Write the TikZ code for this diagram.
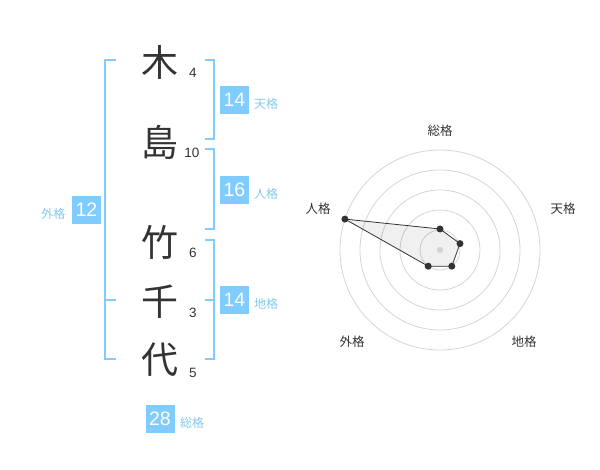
\documentclass[tikz,border=0pt]{standalone}
\usepackage{fontspec}
\usetikzlibrary{calc}
\setmainfont{Liberation Sans}
\newfontfamily\cjk{Noto Sans CJK JP}
\definecolor{boxblue}{RGB}{128,204,255}
\definecolor{lblblue}{RGB}{130,200,240}
\definecolor{txt}{RGB}{51,51,51}
\definecolor{ring}{RGB}{212,212,212}
\begin{document}
\begin{tikzpicture}[x=1pt,y=-1pt,
  kanji/.style={font=\cjk\fontsize{37}{37}\selectfont,text=txt,inner sep=0pt,anchor=center},
  strokes/.style={font=\fontsize{13.5}{14}\selectfont,text=txt,inner sep=0pt,anchor=center},
  numbox/.style={fill=boxblue,text=white,font=\fontsize{19.5}{19.5}\selectfont,minimum width=29pt,minimum height=28pt,inner sep=0pt,anchor=center},
  kakulbl/.style={font=\cjk\fontsize{12}{12}\selectfont,text=lblblue,inner sep=0pt,anchor=center},
  radarlbl/.style={font=\cjk\fontsize{12.5}{12.5}\selectfont,text=txt,inner sep=0pt,anchor=center},
  brk/.style={draw=boxblue,line width=2pt},
  dot/.style={circle,fill=txt,inner sep=0pt,minimum size=7pt}
]
\useasboundingbox (0,0) rectangle (600,470);
% kanji
\node[kanji] (k1) at (160,62) {木};
\node[kanji] (k2) at (160,142) {島};
\node[kanji] (k3) at (160,242) {竹};
\node[kanji] (k4) at (160,302) {千};
\node[kanji] (k5) at (160,360) {代};
% stroke counts
\node[strokes] (s1) at (193,73) {4};
\node[strokes] (s2) at (192,153) {10};
\node[strokes] (s3) at (193,253) {6};
\node[strokes] (s4) at (193,313) {3};
\node[strokes] (s5) at (193,373) {5};
% brackets
\draw[brk] (116,60) -- (105,60) -- (105,359) -- (116,359);
\draw[brk] (105,300) -- (116,300);
\draw[brk] (205,60) -- (214,60) -- (214,139) -- (205,139);
\draw[brk] (205,149) -- (214,149) -- (214,229) -- (205,229);
\draw[brk] (205,240) -- (214,240) -- (214,359) -- (205,359);
\draw[brk] (205,300) -- (214,300);
% boxes
\node[numbox] (ten) at (234.5,100) {14};
\node[kakulbl] (tenl) at (266,104) {天格};
\node[numbox] (jin) at (234.5,190) {16};
\node[kakulbl] (jinl) at (266,194) {人格};
\node[numbox] (chi) at (234.5,300) {14};
\node[kakulbl] (chil) at (266,304) {地格};
\node[numbox] (gai) at (86.5,210) {12};
\node[kakulbl] (gail) at (53.5,213.5) {外格};
\node[numbox] (sou) at (160,419) {28};
\node[kakulbl] (soul) at (192,422.5) {総格};
% radar
\coordinate (c) at (440,250);
\foreach \r in {20,40,60,80,100} \draw[ring,line width=0.8pt] (c) circle[radius=\r];
\coordinate (p1) at ($(c)+(0,-21)$);
\coordinate (p2) at ($(c)+(20,-6.4)$);
\coordinate (p3) at ($(c)+(11.8,16.2)$);
\coordinate (p4) at ($(c)+(-11.8,16.2)$);
\coordinate (p5) at ($(c)+(-95.1,-30.9)$);
\fill[black,opacity=0.06] (p1) -- (p2) -- (p3) -- (p4) -- (p5) -- cycle;
\fill[ring] (c) circle[radius=3.2];
\draw[txt,line width=0.8pt] (p1) -- (p2) -- (p3) -- (p4) -- (p5) -- cycle;
\foreach \p in {p1,p2,p3,p4,p5} \node[dot] at (\p) {};
\node[radarlbl] (r1) at (440,131) {総格};
\node[radarlbl] (r2) at (563,209) {天格};
\node[radarlbl] (r3) at (524,342) {地格};
\node[radarlbl] (r4) at (352,342) {外格};
\node[radarlbl] (r5) at (318,209) {人格};
\end{tikzpicture}
\end{document}
